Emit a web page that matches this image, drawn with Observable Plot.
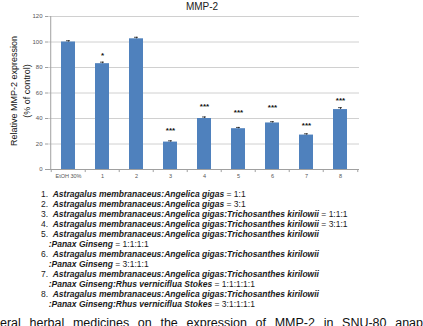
<!DOCTYPE html>
<html>
<head>
<meta charset="utf-8">
<script src="https://cdn.jsdelivr.net/npm/d3@7"></script>
<script src="https://cdn.jsdelivr.net/npm/@observablehq/plot@0.6"></script>
<style>
  html, body { margin: 0; padding: 0; background: #fff; }
  #wrap { position: relative; width: 423px; height: 326px; overflow: hidden; font-family: "Liberation Sans", Arial, sans-serif; }
  #chart { position: absolute; left: 0; top: 0; }
  #legend { position: absolute; left: 0; top: 188.5px; width: 423px; font-size: 8.5px; line-height: 10px; color: #1a1a1a; }
  #legend .ln { white-space: nowrap; height: 10px; }
  #legend .num { display: inline-block; width: 11.7px; padding-left: 41px; font-weight: normal; font-size: 8.5px; }
  #legend .cont { padding-left: 48.7px; }
  #legend i { font-style: italic; font-weight: bold; }
  #legend .ratio { font-weight: normal; }
  #caption { position: absolute; left: 0; top: 316.5px; width: 423px; font-size: 12.5px; line-height: 12.5px; text-align: justify; text-align-last: justify; color: #111; white-space: normal; }
</style>
</head>
<body>
<div id="wrap">
  <div id="chart"></div>
  <div id="legend"></div>
  <div id="caption"></div>
</div>
<script>
const title = "MMP-2";
const yLabel1 = "Relative MMP-2 expression";
const yLabel2 = "(% of control)";
const categories = ["EtOH 30%", "1", "2", "3", "4", "5", "6", "7", "8"];
const values = [100, 83, 102.5, 21.5, 40, 32, 36.5, 27, 47];
const errors = [1, 1.2, 1.2, 1, 1.2, 1, 1, 1, 1.5];
const stars = ["", "*", "", "***", "***", "***", "***", "***", "***"];
const starY = [null, 91, null, 32.5, 51, 46, 50.5, 36, 55.5];
const yTicks = [0, 20, 40, 60, 80, 100, 120];

const legendLines = [
  {num: "1.", name: "Astragalus membranaceus:Angelica gigas", ratio: " = 1:1"},
  {num: "2.", name: "Astragalus membranaceus:Angelica gigas", ratio: " = 3:1"},
  {num: "3.", name: "Astragalus membranaceus:Angelica gigas:Trichosanthes kirilowii", ratio: " = 1:1:1"},
  {num: "4.", name: "Astragalus membranaceus:Angelica gigas:Trichosanthes kirilowii", ratio: " = 3:1:1"},
  {num: "5.", name: "Astragalus membranaceus:Angelica gigas:Trichosanthes kirilowii", ratio: ""},
  {num: "", name: ":Panax Ginseng", ratio: " = 1:1:1:1"},
  {num: "6.", name: "Astragalus membranaceus:Angelica gigas:Trichosanthes kirilowii", ratio: ""},
  {num: "", name: ":Panax Ginseng", ratio: " = 3:1:1:1"},
  {num: "7.", name: "Astragalus membranaceus:Angelica gigas:Trichosanthes kirilowii", ratio: ""},
  {num: "", name: ":Panax Ginseng:Rhus verniciflua Stokes", ratio: " = 1:1:1:1:1"},
  {num: "8.", name: "Astragalus membranaceus:Angelica gigas:Trichosanthes kirilowii", ratio: ""},
  {num: "", name: ":Panax Ginseng:Rhus verniciflua Stokes", ratio: " = 3:1:1:1:1"}
];
const captionText = "eral herbal medicines on the expression of MMP-2 in SNU-80 anap";

const data = categories.map((c, i) => ({cat: c, value: values[i], err: errors[i], star: stars[i], starY: starY[i]}));
const step = (423 - 48 - 64) / categories.length;

const chart = Plot.plot({
  width: 423,
  height: 186,
  marginTop: 16,
  marginBottom: 17,
  marginLeft: 48,
  marginRight: 64,
  x: {domain: categories, paddingInner: 0.6, paddingOuter: 0.3, axis: null},
  y: {domain: [0, 120], axis: null},
  style: {fontFamily: "'Liberation Sans', Arial, sans-serif", background: "transparent", overflow: "visible"},
  marks: [
    Plot.gridY(yTicks, {stroke: "#d0d0d0", strokeOpacity: 1, strokeWidth: 1}),
    Plot.axisY(yTicks, {tickSize: 3, tickPadding: 3, fontSize: 6, fill: "#555", stroke: "#a0a0a0", label: null}),
    Plot.ruleX([categories[0]], {dx: -step / 2 - 0.5, stroke: "#a0a0a0"}),
    Plot.ruleY([0], {stroke: "#a0a0a0"}),
    Plot.ruleX(categories, {x: d => d, y1: 0, y2: -2.4, dx: -step / 2, stroke: "#a0a0a0", clip: false}),
    Plot.ruleX([categories[categories.length - 1]], {x: d => d, y1: 0, y2: -2.4, dx: step / 2, stroke: "#a0a0a0"}),
    Plot.axisX(categories, {tickSize: 0, tickPadding: 5, fontSize: 5.5, fill: "#555", label: null}),
    Plot.barY(data, {x: "cat", y: "value", fill: "#4F81BD"}),
    Plot.ruleX(data, {x: "cat", y1: "value", y2: d => d.value + d.err, stroke: "#222", strokeWidth: 0.8}),
    Plot.tickY(data, {x: "cat", y: d => d.value + d.err, inset: 5, stroke: "#222", strokeWidth: 0.8}),
    Plot.text(data.filter(d => d.star), {x: "cat", y: "starY", text: "star", fontSize: 8, fontWeight: "bold", dy: 2, fill: "#111"}),
    Plot.text([title], {frameAnchor: "top", dy: -10, dx: -2, fontSize: 10, fill: "#222", textAnchor: "middle", lineAnchor: "middle"}),
    Plot.text([yLabel1], {frameAnchor: "left", dx: -34, dy: -2, rotate: -90, fontSize: 9, fill: "#111", textAnchor: "middle", lineAnchor: "middle"}),
    Plot.text([yLabel2], {frameAnchor: "left", dx: -21, dy: -2, rotate: -90, fontSize: 9, fill: "#111", textAnchor: "middle", lineAnchor: "middle"})
  ]
});
document.getElementById("chart").appendChild(chart);

const legend = document.getElementById("legend");
for (const l of legendLines) {
  const div = document.createElement("div");
  div.className = "ln";
  if (l.num) {
    const n = document.createElement("span");
    n.className = "num";
    n.textContent = l.num;
    div.appendChild(n);
  } else {
    div.classList.add("cont");
  }
  const it = document.createElement("i");
  it.textContent = l.name;
  div.appendChild(it);
  if (l.ratio) {
    const r = document.createElement("span");
    r.className = "ratio";
    r.textContent = l.ratio;
    div.appendChild(r);
  }
  legend.appendChild(div);
}
document.getElementById("caption").textContent = captionText;
</script>
</body>
</html>
